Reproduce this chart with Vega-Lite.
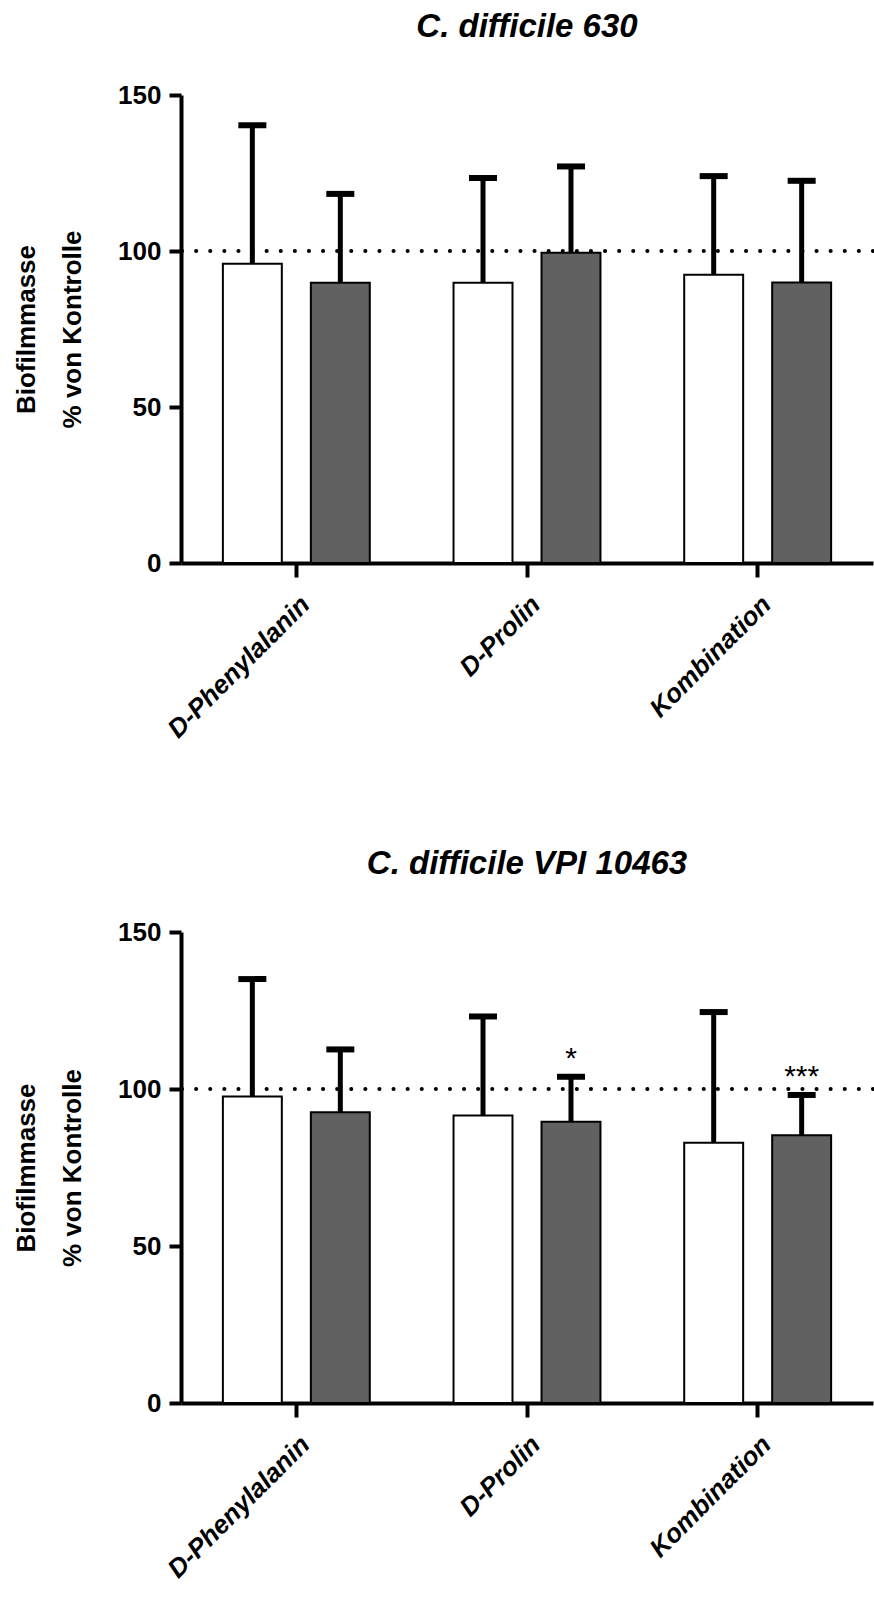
{
  "$schema": "https://vega.github.io/schema/vega-lite/v6.json",
  "background": "white",
  "padding": {"left": 13, "top": 11, "right": 0, "bottom": 0},
  "spacing": 105,
  "config": {
    "font": "Liberation Sans",
    "view": {"stroke": null},
    "axis": {
      "grid": false,
      "domainColor": "black",
      "domainWidth": 4,
      "tickColor": "black",
      "tickWidth": 4,
      "labelColor": "black",
      "titleColor": "black",
      "labelFont": "Liberation Sans",
      "titleFont": "Liberation Sans",
      "labelFontWeight": "bold",
      "titleFontWeight": "bold",
      "labelLimit": 400
    },
    "title": {
      "font": "Liberation Sans",
      "fontSize": 33,
      "fontWeight": "bold",
      "fontStyle": "italic",
      "color": "black",
      "anchor": "middle",
      "offset": 38
    }
  },
  "vconcat": [
    {
      "title": "C. difficile 630",
      "width": 692,
      "height": 468,
      "layer": [
        {
          "data": {"values": [{"reference": 100}]},
          "mark": {"type": "rule", "strokeDash": [0.1, 14], "strokeWidth": 4, "strokeCap": "round", "color": "black"},
          "encoding": {"y": {"field": "reference", "type": "quantitative", "scale": {"domain": [0, 150], "nice": false}}}
        },
        {
          "data": {"values": [
            {"treatment": "D-Phenylalanin", "series": "Gruppe 1", "mean": 95.9, "upper": 140.3},
            {"treatment": "D-Phenylalanin", "series": "Gruppe 2", "mean": 89.8, "upper": 118.3},
            {"treatment": "D-Prolin", "series": "Gruppe 1", "mean": 89.8, "upper": 123.4},
            {"treatment": "D-Prolin", "series": "Gruppe 2", "mean": 99.4, "upper": 127.1},
            {"treatment": "Kombination", "series": "Gruppe 1", "mean": 92.4, "upper": 124.0},
            {"treatment": "Kombination", "series": "Gruppe 2", "mean": 89.9, "upper": 122.5}
          ]},
          "encoding": {
            "x": {
              "field": "treatment", "type": "nominal",
              "sort": ["D-Phenylalanin", "D-Prolin", "Kombination"],
              "scale": {"paddingInner": 0, "paddingOuter": 0},
              "axis": {"title": null, "labelAngle": -45, "labelFontSize": 26, "labelFontStyle": "italic", "tickSize": 14, "labelPadding": 14, "labelLimit": 400}
            },
            "xOffset": {
              "field": "series", "type": "nominal", "sort": ["Gruppe 1", "Gruppe 2"],
              "scale": {"paddingInner": 0.33, "paddingOuter": 0.476}
            }
          },
          "layer": [
            {
              "mark": {"type": "bar", "stroke": "black", "strokeWidth": 2},
              "encoding": {
                "y": {
                  "field": "mean", "type": "quantitative",
                  "scale": {"domain": [0, 150], "nice": false},
                  "axis": {
                    "values": [0, 50, 100, 150], "tickSize": 12, "labelFontSize": 26, "labelPadding": 8,
                    "title": ["Biofilmmasse", "% von Kontrolle"], "titleFontSize": 26, "titleLineHeight": 46, "titlePadding": 32
                  }
                },
                "fill": {"field": "series", "type": "nominal", "scale": {"domain": ["Gruppe 1", "Gruppe 2"], "range": ["white", "#616161"]}, "legend": null}
              }
            },
            {
              "mark": {"type": "rule", "strokeWidth": 5, "color": "black"},
              "encoding": {
                "y": {"field": "mean", "type": "quantitative"},
                "y2": {"field": "upper"}
              }
            },
            {
              "mark": {"type": "tick", "thickness": 6, "size": 28, "color": "black", "opacity": 1},
              "encoding": {"y": {"field": "upper", "type": "quantitative"}}
            }
          ]
        }
      ]
    },
    {
      "title": "C. difficile VPI 10463",
      "width": 692,
      "height": 471,
      "layer": [
        {
          "data": {"values": [{"reference": 100}]},
          "mark": {"type": "rule", "strokeDash": [0.1, 14], "strokeWidth": 4, "strokeCap": "round", "color": "black"},
          "encoding": {"y": {"field": "reference", "type": "quantitative", "scale": {"domain": [0, 150], "nice": false}}}
        },
        {
          "data": {"values": [
            {"treatment": "D-Phenylalanin", "series": "Gruppe 1", "mean": 97.6, "upper": 135.0, "sig": ""},
            {"treatment": "D-Phenylalanin", "series": "Gruppe 2", "mean": 92.6, "upper": 112.6, "sig": ""},
            {"treatment": "D-Prolin", "series": "Gruppe 1", "mean": 91.6, "upper": 123.1, "sig": ""},
            {"treatment": "D-Prolin", "series": "Gruppe 2", "mean": 89.6, "upper": 103.9, "sig": "*"},
            {"treatment": "Kombination", "series": "Gruppe 1", "mean": 82.9, "upper": 124.5, "sig": ""},
            {"treatment": "Kombination", "series": "Gruppe 2", "mean": 85.3, "upper": 98.1, "sig": "***"}
          ]},
          "encoding": {
            "x": {
              "field": "treatment", "type": "nominal",
              "sort": ["D-Phenylalanin", "D-Prolin", "Kombination"],
              "scale": {"paddingInner": 0, "paddingOuter": 0},
              "axis": {"title": null, "labelAngle": -45, "labelFontSize": 26, "labelFontStyle": "italic", "tickSize": 14, "labelPadding": 14, "labelLimit": 400}
            },
            "xOffset": {
              "field": "series", "type": "nominal", "sort": ["Gruppe 1", "Gruppe 2"],
              "scale": {"paddingInner": 0.33, "paddingOuter": 0.476}
            }
          },
          "layer": [
            {
              "mark": {"type": "bar", "stroke": "black", "strokeWidth": 2},
              "encoding": {
                "y": {
                  "field": "mean", "type": "quantitative",
                  "scale": {"domain": [0, 150], "nice": false},
                  "axis": {
                    "values": [0, 50, 100, 150], "tickSize": 12, "labelFontSize": 26, "labelPadding": 8,
                    "title": ["Biofilmmasse", "% von Kontrolle"], "titleFontSize": 26, "titleLineHeight": 46, "titlePadding": 32
                  }
                },
                "fill": {"field": "series", "type": "nominal", "scale": {"domain": ["Gruppe 1", "Gruppe 2"], "range": ["white", "#616161"]}, "legend": null}
              }
            },
            {
              "mark": {"type": "rule", "strokeWidth": 5, "color": "black"},
              "encoding": {
                "y": {"field": "mean", "type": "quantitative"},
                "y2": {"field": "upper"}
              }
            },
            {
              "mark": {"type": "tick", "thickness": 6, "size": 28, "color": "black", "opacity": 1},
              "encoding": {"y": {"field": "upper", "type": "quantitative"}}
            },
            {
              "transform": [{"filter": "datum.sig != ''"}],
              "mark": {"type": "text", "fontSize": 30, "dy": -9, "baseline": "alphabetic", "align": "center", "color": "black", "font": "Liberation Sans"},
              "encoding": {
                "y": {"field": "upper", "type": "quantitative"},
                "text": {"field": "sig"}
              }
            }
          ]
        }
      ]
    }
  ]
}
